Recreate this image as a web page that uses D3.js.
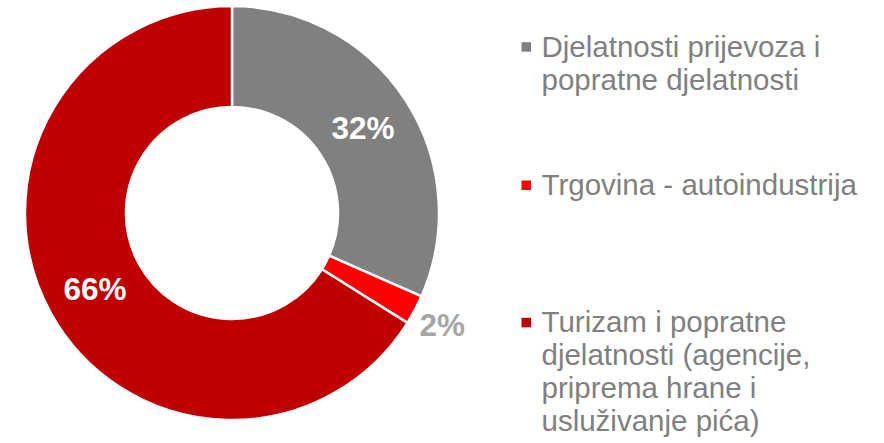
<!DOCTYPE html>
<html><head><meta charset="utf-8">
<script src="https://cdn.jsdelivr.net/npm/d3@7"></script>
<style>body{margin:0;background:#fff}svg{display:block}</style>
</head><body>
<script>
const categories = ["Djelatnosti prijevoza i popratne djelatnosti", "Trgovina - autoindustrija", "Turizam i popratne djelatnosti (agencije, priprema hrane i usluživanje pića)"];
const values = [31.6, 2.3, 66.1];
const labels = ["32%", "2%", "66%"];
const colors = ["#808080", "#ff0000", "#c00000"];
const legendLines = [["Djelatnosti prijevoza i", "popratne djelatnosti"], ["Trgovina - autoindustrija"], ["Turizam i popratne", "djelatnosti (agencije,", "priprema hrane i", "usluživanje pića)"]];

const W = 884, H = 443;
const svg = d3.select("body").append("svg").attr("width", W).attr("height", H);
const cx = 232, cy = 213, R = 207, r = 106;
const pie = d3.pie().sort(null).value(d => d)(values);
const arc = d3.arc().innerRadius(r).outerRadius(R);
const g = svg.append("g").attr("transform", `translate(${cx},${cy})`);
g.selectAll("path").data(pie).join("path")
  .attr("d", arc).attr("fill", (d, i) => colors[i])
  .attr("stroke", "#fff").attr("stroke-width", 2.5);

const font = "'Liberation Sans', Arial, sans-serif";
const labelArc = d3.arc().innerRadius((R + r) / 2).outerRadius((R + r) / 2);
pie.forEach((d, i) => {
  let [x, y] = labelArc.centroid(d);
  let fill = "#fff";
  if (i === 1) {
    const a = (d.startAngle + d.endAngle) / 2;
    const rr = R + 31;
    x = Math.sin(a) * rr; y = -Math.cos(a) * rr;
    fill = "#a6a6a6";
  }
  g.append("text").attr("x", x).attr("y", y).attr("dy", "0.36em")
    .attr("text-anchor", "middle").attr("font-family", font)
    .attr("font-weight", "bold").attr("font-size", 31.5).attr("fill", fill)
    .text(labels[i]);
});

const legendBase = [56.7, 195, 332.3];
const lg = svg.append("g");
legendLines.forEach((lines, i) => {
  lg.append("rect").attr("x", 521.5).attr("y", legendBase[i] - 14.5).attr("width", 9.5).attr("height", 9.5).attr("fill", colors[i]);
  lines.forEach((t, j) => {
    lg.append("text").attr("x", 541.5).attr("y", legendBase[i] + j * 33)
      .attr("font-family", font).attr("font-size", 29.5).attr("fill", "#808080").text(t);
  });
});
</script>
</body></html>
